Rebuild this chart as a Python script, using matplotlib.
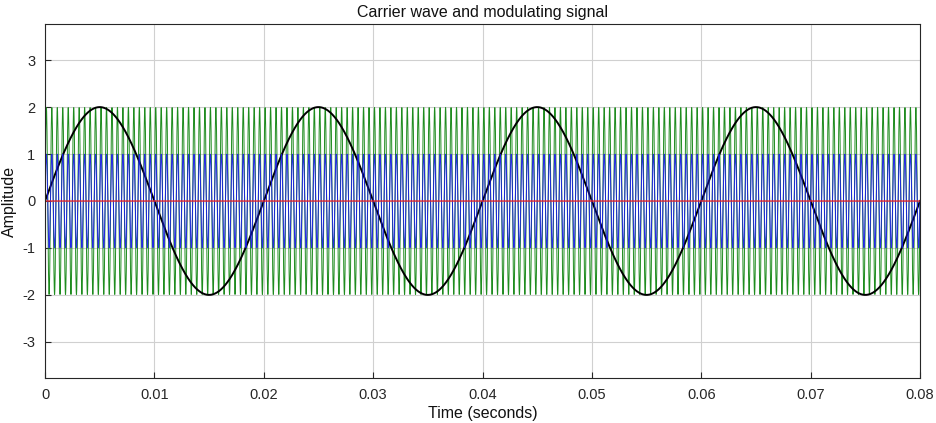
import numpy as np
import matplotlib
matplotlib.use("Agg")
import matplotlib.pyplot as plt

# Signal parameters
t_end = 0.08
sample_rate = 60000
carrier_freq = 2000
carrier_amp_outer = 2.0
carrier_amp_inner = 1.0
mod_freq = 50
mod_amp = 2.0
baseline = 0.0

x_ticks = [0, 0.01, 0.02, 0.03, 0.04, 0.05, 0.06, 0.07, 0.08]
x_tick_labels = ["0", "0.01", "0.02", "0.03", "0.04", "0.05", "0.06", "0.07", "0.08"]
y_ticks = [-3, -2, -1, 0, 1, 2, 3]
y_tick_labels = ["-3", "-2", "-1", "0", "1", "2", "3"]

t = np.arange(0, t_end + 1e-12, 1 / sample_rate)
carrier_outer = carrier_amp_outer * np.sin(2 * np.pi * carrier_freq * t)
carrier_inner = carrier_amp_inner * np.sin(2 * np.pi * carrier_freq * t)
modulating = mod_amp * np.sin(2 * np.pi * mod_freq * t)
zero_line = np.full_like(t, baseline)

plt.rcParams['font.family'] = ['Liberation Sans', 'DejaVu Sans']
plt.rcParams['axes.unicode_minus'] = False
fig = plt.figure(figsize=(9.36, 4.23), dpi=100)
ax = fig.add_axes([45 / 936, 1 - 378 / 423, (920 - 45) / 936, (378 - 24) / 423])

ax.plot(t, carrier_outer, color="#1f8c1f", lw=0.7)
ax.plot(t, modulating, color="black", lw=1.4)
ax.plot(t, carrier_inner, color="#1818ee", lw=0.7, alpha=0.9)
ax.plot(t, zero_line, color="#ee2020", lw=0.9)

ax.set_xlim(0, t_end)
ax.set_ylim(-3.77, 3.77)
ax.set_xticks(x_ticks)
ax.set_xticklabels(x_tick_labels)
ax.set_yticks(y_ticks)
ax.set_yticklabels(y_tick_labels)
ax.grid(True, color="#d0d0d0", lw=0.8)
ax.set_axisbelow(True)
ax.tick_params(direction="in", length=4, labelsize=10.5, colors="#262626", pad=7)
for s in ax.spines.values():
    s.set_color("#262626")
    s.set_linewidth(0.8)

ax.set_title("Carrier wave and modulating signal", fontsize=11.5, pad=5, color="#111111")
ax.set_xlabel("Time (seconds)", fontsize=11.5, color="#111111", labelpad=3)
ax.set_ylabel("Amplitude", fontsize=11.5, color="#111111")
ax.yaxis.set_label_coords(-28 / 875, 0.5)

fig.savefig("out.png", dpi=100, facecolor="white")
